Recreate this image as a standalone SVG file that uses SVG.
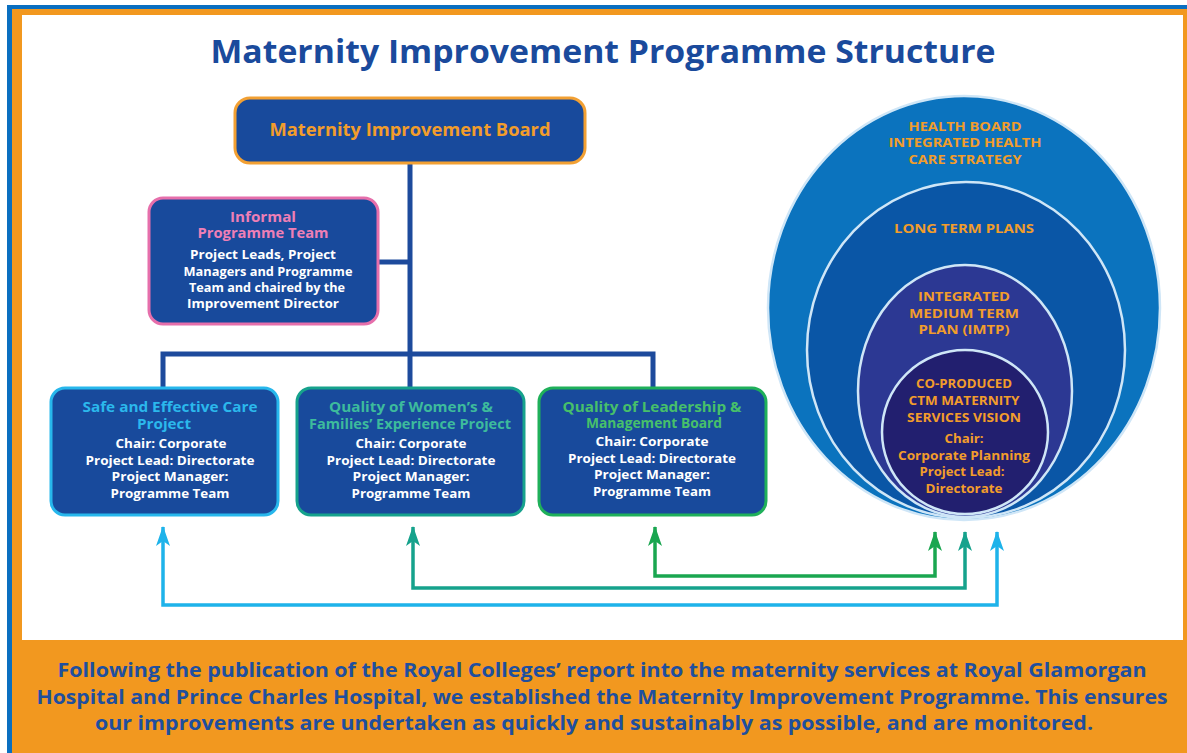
<svg xmlns="http://www.w3.org/2000/svg" width="1187" height="753" viewBox="0 0 1187 753">
<style>
text{font-family:"Open Sans","Liberation Sans",sans-serif;font-weight:700;text-anchor:middle}
.box{fill:#184a9c;stroke-width:3}
.wt{fill:#ffffff;font-size:13px}
.or{fill:#f29d2b}
.line{fill:none;stroke:#1d4a9c;stroke-width:5}
.arr{fill:none;stroke-width:3.5}
.ring{stroke:#cfe6f7;stroke-width:2.5}
</style>
<defs>
<marker id="mb" viewBox="0 0 20 14" refX="19" refY="7" markerWidth="20" markerHeight="14" markerUnits="userSpaceOnUse" orient="auto-start-reverse">
<path d="M20 7 L0 0 L5 7 L0 14 Z" fill="#1eb3ea"/></marker>
<marker id="mt" viewBox="0 0 20 14" refX="19" refY="7" markerWidth="20" markerHeight="14" markerUnits="userSpaceOnUse" orient="auto-start-reverse">
<path d="M20 7 L0 0 L5 7 L0 14 Z" fill="#16a28c"/></marker>
<marker id="mg" viewBox="0 0 20 14" refX="19" refY="7" markerWidth="20" markerHeight="14" markerUnits="userSpaceOnUse" orient="auto-start-reverse">
<path d="M20 7 L0 0 L5 7 L0 14 Z" fill="#1aa650"/></marker>
</defs>
<!-- frame -->
<rect x="0" y="0" width="1187" height="753" fill="#ffffff"/>
<rect x="7" y="5" width="1180" height="748" fill="#0a6fc0"/>
<rect x="12" y="9" width="1175" height="744" fill="#f2981f"/>
<rect x="22" y="15" width="1161" height="625" fill="#ffffff"/>
<text x="603" y="63" fill="#1a4a9c" font-size="32" textLength="785" lengthAdjust="spacingAndGlyphs">Maternity Improvement Programme Structure</text>

<g id="connectors">
<polyline class="line" points="410,163 410,354"/>
<polyline class="line" points="378,262 410,262"/>
<polyline class="line" points="163,387 163,354 653,354 653,387"/>
<polyline class="line" points="410,354 410,387"/>
<polyline class="arr" stroke="#1eb3ea" points="163,527 163,605 997,605 997,532" marker-start="url(#mb)" marker-end="url(#mb)"/>
<polyline class="arr" stroke="#16a28c" points="413,527 413,588 965,588 965,532" marker-start="url(#mt)" marker-end="url(#mt)"/>
<polyline class="arr" stroke="#1aa650" points="655,527 655,576 935,576 935,532" marker-start="url(#mg)" marker-end="url(#mg)"/>
</g>

<g id="board">
<rect class="box" x="235" y="98" width="350" height="65" rx="15" stroke="#f2a033"/>
<text class="or" x="410" y="136" font-size="17" textLength="281" lengthAdjust="spacingAndGlyphs">Maternity Improvement Board</text>
</g>

<g id="informal">
<rect class="box" x="149" y="198" width="229" height="126" rx="14" stroke="#e66fab"/>
<text x="263" y="222" fill="#ee7fb6" font-size="13.5" textLength="66" lengthAdjust="spacingAndGlyphs">Informal</text>
<text x="263" y="238" fill="#ee7fb6" font-size="13.5" textLength="131" lengthAdjust="spacingAndGlyphs">Programme Team</text>
<text class="wt" x="263" y="259" textLength="146" lengthAdjust="spacingAndGlyphs">Project Leads, Project</text>
<text class="wt" x="268" y="276" textLength="169" lengthAdjust="spacingAndGlyphs">Managers and Programme</text>
<text class="wt" x="267" y="292" textLength="156" lengthAdjust="spacingAndGlyphs">Team and chaired by the</text>
<text class="wt" x="263" y="308" textLength="152" lengthAdjust="spacingAndGlyphs">Improvement Director</text>
</g>

<g id="safe">
<rect class="box" x="51" y="388" width="227" height="127" rx="14" stroke="#27b7ec"/>
<text x="170" y="412" fill="#2bb8ec" font-size="13.5" textLength="175" lengthAdjust="spacingAndGlyphs">Safe and Effective Care</text>
<text x="164" y="429" fill="#2bb8ec" font-size="13.5" textLength="54" lengthAdjust="spacingAndGlyphs">Project</text>
<text class="wt" x="171" y="448" textLength="111" lengthAdjust="spacingAndGlyphs">Chair: Corporate</text>
<text class="wt" x="170" y="465" textLength="169" lengthAdjust="spacingAndGlyphs">Project Lead: Directorate</text>
<text class="wt" x="170" y="481" textLength="117" lengthAdjust="spacingAndGlyphs">Project Manager:</text>
<text class="wt" x="170" y="498" textLength="119" lengthAdjust="spacingAndGlyphs">Programme Team</text>
</g>

<g id="quality-women">
<rect class="box" x="297" y="388" width="227" height="127" rx="14" stroke="#16a28c"/>
<text x="411" y="412" fill="#3dbb9c" font-size="13.5" textLength="164" lengthAdjust="spacingAndGlyphs">Quality of Women’s &amp;</text>
<text x="410" y="429" fill="#3dbb9c" font-size="13.5" textLength="202" lengthAdjust="spacingAndGlyphs">Families’ Experience Project</text>
<text class="wt" x="411" y="448" textLength="111" lengthAdjust="spacingAndGlyphs">Chair: Corporate</text>
<text class="wt" x="411" y="465" textLength="169" lengthAdjust="spacingAndGlyphs">Project Lead: Directorate</text>
<text class="wt" x="411" y="481" textLength="117" lengthAdjust="spacingAndGlyphs">Project Manager:</text>
<text class="wt" x="411" y="498" textLength="119" lengthAdjust="spacingAndGlyphs">Programme Team</text>
</g>

<g id="quality-leadership">
<rect class="box" x="539" y="388" width="227" height="127" rx="14" stroke="#1fb05a"/>
<text x="652" y="412" fill="#47c06a" font-size="13.5" textLength="179" lengthAdjust="spacingAndGlyphs">Quality of Leadership &amp;</text>
<text x="654" y="428" fill="#47c06a" font-size="13.5" textLength="136" lengthAdjust="spacingAndGlyphs">Management Board</text>
<text class="wt" x="652" y="446" textLength="113" lengthAdjust="spacingAndGlyphs">Chair: Corporate</text>
<text class="wt" x="652" y="463" textLength="168" lengthAdjust="spacingAndGlyphs">Project Lead: Directorate</text>
<text class="wt" x="652" y="479" textLength="116" lengthAdjust="spacingAndGlyphs">Project Manager:</text>
<text class="wt" x="652" y="496" textLength="118" lengthAdjust="spacingAndGlyphs">Programme Team</text>
</g>

<g id="health-board">
<ellipse class="ring" cx="964" cy="308" rx="196" ry="212" fill="#0b73be"/>
<text class="or" x="965" y="131" font-size="12.5" textLength="113" lengthAdjust="spacingAndGlyphs">HEALTH BOARD</text>
<text class="or" x="965" y="147" font-size="12.5" textLength="153" lengthAdjust="spacingAndGlyphs">INTEGRATED HEALTH</text>
<text class="or" x="965" y="164" font-size="12.5" textLength="113" lengthAdjust="spacingAndGlyphs">CARE STRATEGY</text>
</g>
<g id="long-term">
<ellipse class="ring" cx="966" cy="350" rx="159" ry="168" fill="#0a56a6"/>
<text class="or" x="964" y="233" font-size="12.5" textLength="140" lengthAdjust="spacingAndGlyphs">LONG TERM PLANS</text>
</g>
<g id="imtp">
<ellipse class="ring" cx="965" cy="391" rx="107" ry="126" fill="#2c3893"/>
<text class="or" x="964" y="301" font-size="12.5" textLength="92" lengthAdjust="spacingAndGlyphs">INTEGRATED</text>
<text class="or" x="964" y="318" font-size="12.5" textLength="110" lengthAdjust="spacingAndGlyphs">MEDIUM TERM</text>
<text class="or" x="964" y="334" font-size="12.5" textLength="91" lengthAdjust="spacingAndGlyphs">PLAN (IMTP)</text>
</g>
<g id="vision">
<ellipse class="ring" cx="965" cy="432" rx="83" ry="82" fill="#221f6f"/>
<text class="or" x="964" y="388" font-size="12.5" textLength="96" lengthAdjust="spacingAndGlyphs">CO-PRODUCED</text>
<text class="or" x="964" y="405" font-size="12.5" textLength="111" lengthAdjust="spacingAndGlyphs">CTM MATERNITY</text>
<text class="or" x="964" y="422" font-size="12.5" textLength="114" lengthAdjust="spacingAndGlyphs">SERVICES VISION</text>
<text class="or" x="964" y="443" font-size="12.5" textLength="39" lengthAdjust="spacingAndGlyphs">Chair:</text>
<text class="or" x="964" y="460" font-size="12.5" textLength="132" lengthAdjust="spacingAndGlyphs">Corporate Planning</text>
<text class="or" x="962" y="476" font-size="12.5" textLength="85" lengthAdjust="spacingAndGlyphs">Project Lead:</text>
<text class="or" x="964" y="493" font-size="12.5" textLength="77" lengthAdjust="spacingAndGlyphs">Directorate</text>
</g>

<g id="footer">
<text x="602" y="677" fill="#1f4f9e" font-size="20" font-weight="600" textLength="1089" lengthAdjust="spacingAndGlyphs">Following the publication of the Royal Colleges’ report into the maternity services at Royal Glamorgan</text>
<text x="602" y="704" fill="#1f4f9e" font-size="20" font-weight="600" textLength="1131" lengthAdjust="spacingAndGlyphs">Hospital and Prince Charles Hospital, we established the Maternity Improvement Programme. This ensures</text>
<text x="594" y="730" fill="#1f4f9e" font-size="20" font-weight="600" textLength="998" lengthAdjust="spacingAndGlyphs">our improvements are undertaken as quickly and sustainably as possible, and are monitored.</text>
</g>
</svg>
